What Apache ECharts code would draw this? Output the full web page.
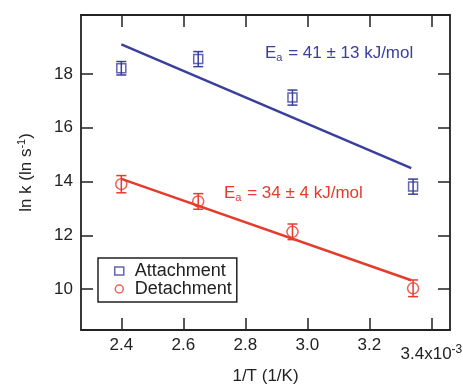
<!DOCTYPE html>
<html>
<head>
<meta charset="utf-8">
<script src="https://cdn.jsdelivr.net/npm/echarts@6/dist/echarts.min.js"></script>
<style>
  html, body { margin: 0; padding: 0; background: #fff; }
  #chart { width: 463px; height: 384px; }
</style>
</head>
<body>
<div id="chart"></div>
<script>
// data (x in units of 1e-3 1/K)
var attX = [2.40, 2.648, 2.952, 3.341];
var attY = [18.21, 18.55, 17.12, 13.81];
var attErr = [0.25, 0.28, 0.28, 0.28];
var detX = [2.40, 2.648, 2.952, 3.341];
var detY = [13.90, 13.26, 12.13, 10.03];
var detErr = [0.32, 0.29, 0.29, 0.31];
var attFitX = [2.40, 3.335];
var attFitY = [19.10, 14.50];
var detFitX = [2.40, 3.335];
var detFitY = [14.10, 10.33];
var xTicks = [2.4, 2.6, 2.8, 3.0, 3.2, 3.4];
var yTicks = [10, 12, 14, 16, 18];

var blue = "#3b3f9c";
var red = "#e63b2b";
var font = "Liberation Sans";
var fs = 17;

function pairs(xs, ys) {
  var out = [];
  for (var i = 0; i < xs.length; i++) out.push([xs[i], ys[i]]);
  return out;
}
function errData(xs, ys, es) {
  var out = [];
  for (var i = 0; i < xs.length; i++) out.push([xs[i], ys[i] - es[i], ys[i] + es[i]]);
  return out;
}
function errRender(color) {
  return function (params, api) {
    var lo = api.coord([api.value(0), api.value(1)]);
    var hi = api.coord([api.value(0), api.value(2)]);
    var w = 5;
    var st = { stroke: color, lineWidth: 1.5 };
    return {
      type: "group",
      children: [
        { type: "line", shape: { x1: lo[0], y1: lo[1], x2: hi[0], y2: hi[1] }, style: st },
        { type: "line", shape: { x1: lo[0] - w, y1: lo[1], x2: lo[0] + w, y2: lo[1] }, style: st },
        { type: "line", shape: { x1: hi[0] - w, y1: hi[1], x2: hi[0] + w, y2: hi[1] }, style: st }
      ]
    };
  };
}

var axisCommon = {
  axisLine: { show: true, onZero: false, lineStyle: { color: "#222", width: 1.8 } },
  axisTick: { show: true, inside: true, length: 12, lineStyle: { color: "#222", width: 1.5 } },
  splitLine: { show: false }
};

var myChart = echarts.init(document.getElementById("chart"));
var option = {
  animation: false,
  grid: { left: 81, right: 13, top: 15, bottom: 54, containLabel: false, outerBoundsMode: "none" },
  xAxis: [
    Object.assign({}, axisCommon, {
      type: "value", min: 2.27, max: 3.46, position: "bottom",
      axisTick: Object.assign({}, axisCommon.axisTick, { customValues: xTicks }),
      axisLabel: {
        customValues: xTicks, margin: 7, color: "#222", fontFamily: font, fontSize: fs,
        formatter: function (v) {
          if (Math.abs(v - 3.4) < 1e-6) return "{b|3.4x10}{s|-3}";
          return v.toFixed(1);
        },
        rich: {
          b: { fontSize: fs, fontFamily: font, color: "#222", padding: [9, 0, 0, 0] },
          s: { fontSize: 12, fontFamily: font, color: "#222" }
        }
      },
      name: "1/T (1/K)", nameLocation: "middle", nameGap: 37,
      nameTextStyle: { color: "#222", fontFamily: font, fontSize: fs }
    }),
    Object.assign({}, axisCommon, {
      type: "value", min: 2.27, max: 3.46, position: "top",
      axisTick: Object.assign({}, axisCommon.axisTick, { customValues: xTicks }),
      axisLabel: { show: false }
    })
  ],
  yAxis: [
    Object.assign({}, axisCommon, {
      type: "value", min: 8.48, max: 20.19, position: "left",
      axisTick: Object.assign({}, axisCommon.axisTick, { customValues: yTicks }),
      axisLabel: { customValues: yTicks, margin: 8, color: "#222", fontFamily: font, fontSize: fs },
      name: "{n|ln k (ln s}{s|-1}{n|)}", nameLocation: "middle", nameGap: 45,
      nameTextStyle: {
        rich: {
          n: { fontSize: fs, fontFamily: font, color: "#222" },
          s: { fontSize: 11, fontFamily: font, color: "#222", padding: [0, 0, 9, 0] }
        }
      }
    }),
    Object.assign({}, axisCommon, {
      type: "value", min: 8.48, max: 20.19, position: "right",
      axisTick: Object.assign({}, axisCommon.axisTick, { customValues: yTicks }),
      axisLabel: { show: false }
    })
  ],
  legend: {
    left: 98, top: 258, orient: "vertical",
    padding: [4, 5, 4, 16], itemGap: 0, itemWidth: 9, itemHeight: 8,
    borderColor: "#222", borderWidth: 1.5, backgroundColor: "#fff",
    textStyle: { fontFamily: font, fontSize: 18, color: "#222", padding: [0, 0, 0, 6] },
    data: [
      { name: "Attachment", icon: "rect", itemStyle: { color: "#fff", borderColor: blue, borderWidth: 1.5 } },
      { name: "Detachment", icon: "circle", itemStyle: { color: "#fff", borderColor: red, borderWidth: 1.5 } }
    ]
  },
  graphic: [
    {
      type: "text", left: 265, top: 45,
      style: {
        text: "{n|E}{s|a}{n| = 41 ± 13 kJ/mol}",
        rich: {
          n: { fontSize: fs, fontFamily: font, fill: blue },
          s: { fontSize: 11, fontFamily: font, fill: blue, padding: [9, 1, 0, 0] }
        }
      }
    },
    {
      type: "text", left: 224, top: 185,
      style: {
        text: "{n|E}{s|a}{n| = 34 ± 4 kJ/mol}",
        rich: {
          n: { fontSize: fs, fontFamily: font, fill: red },
          s: { fontSize: 11, fontFamily: font, fill: red, padding: [9, 1, 0, 0] }
        }
      }
    }
  ],
  series: [
    {
      type: "line", data: pairs(attFitX, attFitY), symbol: "none",
      lineStyle: { color: blue, width: 2.5 }, z: 2
    },
    {
      type: "line", data: pairs(detFitX, detFitY), symbol: "none",
      lineStyle: { color: red, width: 2.5 }, z: 2
    },
    {
      type: "custom", data: errData(attX, attY, attErr), renderItem: errRender(blue),
      encode: { x: 0, y: [1, 2] }, z: 3
    },
    {
      type: "custom", data: errData(detX, detY, detErr), renderItem: errRender(red),
      encode: { x: 0, y: [1, 2] }, z: 3
    },
    {
      name: "Attachment", type: "scatter", data: pairs(attX, attY),
      symbol: "rect", symbolSize: [9, 9],
      itemStyle: { color: "rgba(255,255,255,0)", borderColor: blue, borderWidth: 1.5 }, z: 4
    },
    {
      name: "Detachment", type: "scatter", data: pairs(detX, detY),
      symbol: "circle", symbolSize: 11,
      itemStyle: { color: "rgba(255,255,255,0)", borderColor: red, borderWidth: 1.5 }, z: 4
    }
  ]
};
if (option && typeof option === "object") myChart.setOption(option);
window.addEventListener("resize", function () {
  myChart.resize();
});
</script>
</body>
</html>
